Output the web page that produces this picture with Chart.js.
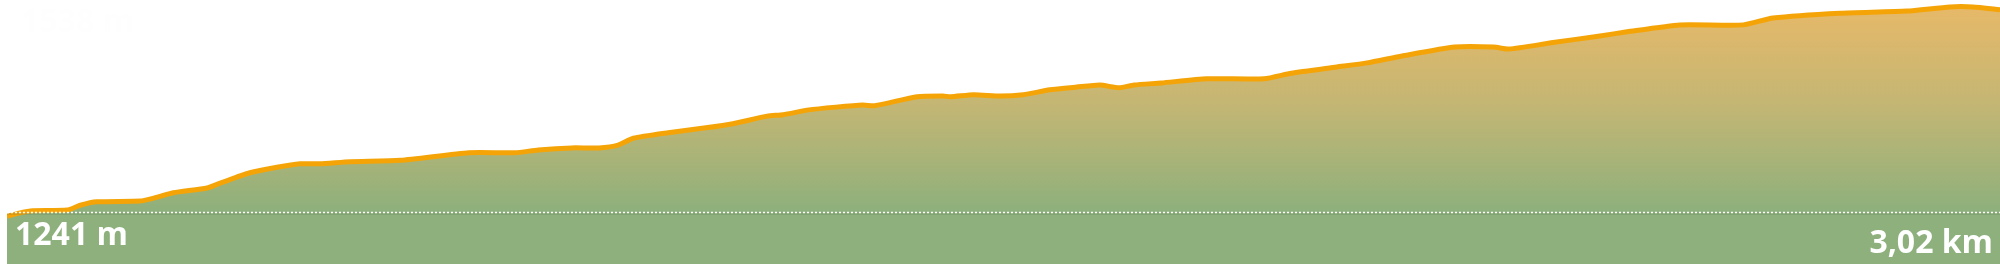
<!DOCTYPE html>
<html>
<head>
<meta charset="utf-8">
<script src="https://cdn.jsdelivr.net/npm/chart.js@4"></script>
<style>
  body { margin: 0; background: #fff; }
  #wrap { width: 2000px; height: 265px; position: relative; }
</style>
</head>
<body>
<div id="wrap"><canvas id="profile"></canvas></div>
<script>
// distance along the track (km) and elevation (m)
var distKm = [0.000, 0.020, 0.039, 0.091, 0.111, 0.136, 0.202, 0.221, 0.252, 0.303,
  0.323, 0.368, 0.409, 0.444, 0.474, 0.520, 0.596, 0.700, 0.770, 0.805,
  0.856, 0.897, 0.926, 0.949, 1.002, 1.059, 1.100, 1.152, 1.176, 1.215,
  1.256, 1.297, 1.315, 1.379, 1.418, 1.430, 1.465, 1.505, 1.540, 1.580,
  1.621, 1.656, 1.685, 1.708, 1.749, 1.818, 1.905, 1.946, 2.015, 2.061,
  2.114, 2.194, 2.253, 2.276, 2.340, 2.414, 2.455, 2.535, 2.631, 2.676,
  2.778, 2.879, 2.944, 2.979, 3.020];
var elevM = [1235, 1240, 1243, 1244, 1251, 1256, 1257, 1261, 1269, 1276,
  1283, 1298, 1306, 1311, 1311, 1314, 1316, 1327, 1327, 1331,
  1334, 1334, 1338, 1348, 1356, 1363, 1369, 1380, 1382, 1389,
  1393, 1396, 1395, 1408, 1409, 1408, 1411, 1409, 1411, 1418,
  1422, 1425, 1421, 1425, 1428, 1434, 1434, 1442, 1451, 1457,
  1467, 1480, 1480, 1477, 1486, 1496, 1502, 1512, 1512, 1522,
  1529, 1532, 1538, 1538, 1534];

var minElev = 1241;
var maxElev = 1538;
var totalKm = 3.02;
var minText = minElev + ' m';
var maxText = maxElev + ' m';
var distText = '3,02 km';

var points = distKm.map(function (d, i) { return {x: d, y: elevM[i]}; });

function fillGradient(context) {
  var chart = context.chart;
  var area = chart.chartArea;
  if (!area) return '#8db07c';
  var yBase = chart.scales.y.getPixelForValue(minElev);
  var g = chart.ctx.createLinearGradient(0, area.top, 0, yBase);
  g.addColorStop(0, '#e9b968');
  g.addColorStop(0.5, '#c3b674');
  g.addColorStop(1, '#8db07c');
  return g;
}

var labelsPlugin = {
  id: 'labels',
  afterDatasetsDraw: function (chart) {
    var c = chart.ctx;
    var area = chart.chartArea;
    var yBase = Math.round(chart.scales.y.getPixelForValue(minElev)) + 0.5;
    c.save();
    // dotted base line
    c.strokeStyle = 'rgba(80,110,70,0.35)';
    c.lineWidth = 1;
    c.beginPath();
    c.moveTo(area.left, yBase + 1.5);
    c.lineTo(area.right, yBase + 1.5);
    c.stroke();
    c.strokeStyle = '#ffffff';
    c.lineWidth = 1.5;
    c.setLineDash([2, 2]);
    c.beginPath();
    c.moveTo(area.left, yBase);
    c.lineTo(area.right, yBase);
    c.stroke();
    c.setLineDash([]);

    c.font = 'bold 32px "Open Sans"';
    c.fillStyle = '#ffffff';
    c.textAlign = 'left';
    c.textBaseline = 'alphabetic';
    c.fillText(minText, 15, 245);
    c.textAlign = 'right';
    c.fillText(distText, 1993, 253);
    c.textAlign = 'left';
    c.fillStyle = '#fefefe';
    c.fillText(maxText, 21, 32);
    c.restore();
  }
};

new Chart('profile', {
  type: 'line',
  data: {
    datasets: [{
      data: points,
      borderColor: '#f5a407',
      borderWidth: 5,
      backgroundColor: fillGradient,
      fill: 'start',
      pointRadius: 0,
      tension: 0.2
    }]
  },
  options: {
    responsive: true,
    maintainAspectRatio: false,
    animation: false,
    layout: {padding: {left: 7, top: 0, right: 0, bottom: 1}},
    plugins: {legend: {display: false}, tooltip: {enabled: false}},
    scales: {
      x: {type: 'linear', min: 0, max: totalKm, display: false},
      y: {min: 1166, max: 1548, display: false}
    }
  },
  plugins: [labelsPlugin]
});
</script>
</body>
</html>
